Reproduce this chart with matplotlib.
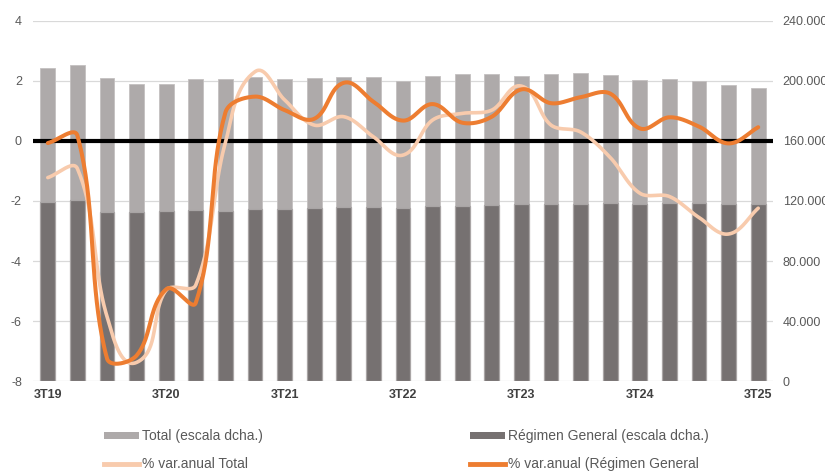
import numpy as np
import matplotlib.pyplot as plt
from matplotlib.patches import Patch
from matplotlib.lines import Line2D
from matplotlib.ticker import FuncFormatter

plt.rcParams['font.family'] = ['Liberation Sans', 'DejaVu Sans']
plt.rcParams['axes.unicode_minus'] = False

quarters = ['3T19', '4T19', '1T20', '2T20', '3T20', '4T20', '1T21', '2T21',
            '3T21', '4T21', '1T22', '2T22', '3T22', '4T22', '1T23', '2T23',
            '3T23', '4T23', '1T24', '2T24', '3T24', '4T24', '1T25', '2T25',
            '3T25']

# affiliates (right scale)
total = [208400, 210400, 201800, 198000, 198000, 201100, 201100, 202400,
         201100, 201800, 202400, 202400, 199800, 203600, 204700, 204700,
         203600, 204700, 205300, 204000, 200700, 201100, 199800, 197300,
         195500]
general = [119300, 120700, 112700, 112700, 113300, 114000, 113300, 114700,
           114700, 115100, 115800, 115800, 115100, 116700, 116700, 117300,
           117800, 118200, 118200, 118700, 117800, 118700, 118700, 118200,
           118200]

# annual % change (left scale)
var_total = [-1.22, -0.92, -5.85, -7.38, -4.97, -4.8, -0.05, 2.31, 1.37, 0.53,
             0.81, 0.14, -0.47, 0.70, 0.92, 1.03, 1.83, 0.53, 0.3, -0.55,
             -1.74, -1.85, -2.55, -3.1, -2.24]
var_general = [-0.07, 0.18, -7.25, -7.15, -4.94, -5.39, 0.95, 1.48, 1.03, 0.74,
               1.94, 1.31, 0.68, 1.23, 0.61, 0.81, 1.72, 1.26, 1.46, 1.58,
               0.42, 0.79, 0.48, -0.08, 0.46]

PX_X, PX_Y = 29.6, 30.0   # screen pixels per category / per percentage point


def smooth(x, y, n=40, k=1 / 3.0):
    """Bezier smoothing through every point, computed in screen units;
    control arms follow the tangent and scale with the segment length."""
    p = np.column_stack([np.asarray(x) * PX_X, np.asarray(y) * PX_Y]).astype(float)
    m = len(p)
    tang = np.zeros_like(p)
    for i in range(m):
        a = p[max(i - 1, 0)]
        b = p[min(i + 1, m - 1)]
        d = b - a
        tang[i] = d / np.hypot(*d)
    t = np.linspace(0, 1, n)[:, None]
    out = []
    for i in range(m - 1):
        p1, p2 = p[i], p[i + 1]
        L = np.hypot(*(p2 - p1))
        c1 = p1 + tang[i] * L * k
        c2 = p2 - tang[i + 1] * L * k
        seg = ((1 - t) ** 3) * p1 + 3 * ((1 - t) ** 2) * t * c1 \
            + 3 * (1 - t) * t ** 2 * c2 + t ** 3 * p2
        out.append(seg if i == 0 else seg[1:])
    s = np.vstack(out)
    return s[:, 0] / PX_X, s[:, 1] / PX_Y


x = np.arange(len(quarters))
c_total = '#AEAAAA'
c_general = '#767171'
c_vtotal = '#F8CBAD'
c_vgeneral = '#ED7D31'
txt = '#595959'

fig = plt.figure(figsize=(8.25, 4.74), dpi=100)
ax = fig.add_axes([0.04, 0.1962, 0.897, 0.7595])
ax2 = ax.twinx()

# bars on the right-hand scale
ax.bar(x, total, width=0.5, color=c_total, edgecolor='#C4C0C0', linewidth=0.6, zorder=2)
ax.bar(x, general, width=0.5, color=c_general, edgecolor='#A9A5A5', linewidth=0.9, zorder=3)
ax.set_ylim(0, 240000)
ax.set_yticks(np.arange(0, 240001, 40000))
ax.yaxis.set_major_formatter(FuncFormatter(lambda v, _: f"{int(v):,}".replace(',', '.')))
ax.yaxis.tick_right()
ax.set_xlim(-0.5, len(quarters) - 0.5)
ax.grid(axis='y', color='#D9D9D9', linewidth=0.9, zorder=0)
ax.set_axisbelow(True)

# lines on the left-hand scale
ax2.axhline(0, color='black', linewidth=3.0, zorder=1)
sx, sy = smooth(x, var_total)
ax2.plot(sx, sy, color=c_vtotal, linewidth=2.6, solid_capstyle='round', zorder=2)
sx, sy = smooth(x, var_general)
ax2.plot(sx, sy, color=c_vgeneral, linewidth=2.9, solid_capstyle='round', zorder=3)
ax2.set_ylim(-8, 4)
ax2.set_yticks(np.arange(-8, 5, 2))
ax2.yaxis.tick_left()

for a in (ax, ax2):
    for s in a.spines.values():
        s.set_visible(False)
    a.tick_params(axis='y', length=0, labelsize=9, labelcolor=txt)

ax.tick_params(axis='y', pad=7)
ax2.tick_params(axis='y', pad=8)
ax.set_xticks(x[::4])
ax.set_xticklabels(quarters[::4], fontweight='bold', fontsize=9, color='#404040')
ax.tick_params(axis='x', length=0, pad=6)

# legend in two columns
h1 = [Patch(facecolor=c_total, edgecolor='none'),
      Line2D([], [], color=c_vtotal, linewidth=3.5)]
l1 = ['Total (escala dcha.)', '% var.anual Total']
h2 = [Patch(facecolor=c_general, edgecolor='none'),
      Line2D([], [], color=c_vgeneral, linewidth=3.5)]
l2 = ['Régimen General (escala dcha.)', '% var.anual (Régimen General']
kw = dict(frameon=False, fontsize=10, labelcolor=txt, handlelength=2.55,
          handleheight=0.4, handletextpad=0.15, labelspacing=1.0,
          borderpad=0, borderaxespad=0)
fig.legend(h1, l1, loc='upper left', bbox_to_anchor=(104 / 825, 1 - 429 / 474), **kw)
fig.legend(h2, l2, loc='upper left', bbox_to_anchor=(470 / 825, 1 - 429 / 474), **kw)

fig.savefig('out.png', dpi=100)
